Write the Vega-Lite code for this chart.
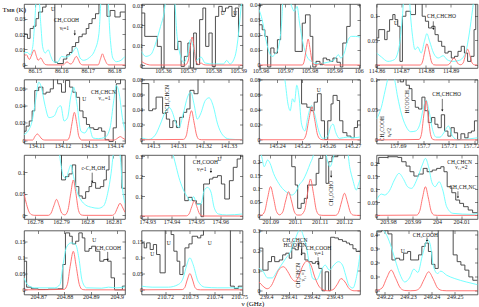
{
"$schema":"https://vega.github.io/schema/vega-lite/v6.json",
"padding":{"left":1,"top":1,"right":0,"bottom":0},
"columns":4,
"spacing":{"row":11.5,"column":16.5},
"bounds":"flush",
"config":{"view":{"stroke":"#333","strokeWidth":0.8},"axis":{"grid":false,"domain":false,"labelFont":"Liberation Serif","labelFontSize":6,"labelColor":"#222","tickColor":"#333","tickSize":-3,"tickWidth":0.6,"labelPadding":2,"labelFlush":false,"labelOverlap":false,"labelBound":false,"format":"~g"}},
"concat":[
{"width":101,"height":64,
"data":{"values":[
{"s":"o","x":86.146,"y":0.02},{"s":"o","x":86.1473,"y":0.0172},{"s":"o","x":86.1483,"y":0.0236},{"s":"o","x":86.1495,"y":0.0251},{"s":"o","x":86.1505,"y":0.03},{"s":"o","x":86.1515,"y":0.0343},{"s":"o","x":86.153,"y":0.0375},{"s":"o","x":86.1543,"y":0.05},{"s":"o","x":86.1576,"y":0.0017},{"s":"o","x":86.1586,"y":0.0009},{"s":"o","x":86.1608,"y":0.0038},{"s":"o","x":86.1621,"y":0.0066},{"s":"o","x":86.1631,"y":0.0081},{"s":"o","x":86.1641,"y":0.0119},{"s":"o","x":86.1654,"y":0.0145},{"s":"o","x":86.1666,"y":0.0183},{"s":"o","x":86.1679,"y":0.02},{"s":"o","x":86.1694,"y":0.0236},{"s":"o","x":86.1704,"y":0.0268},{"s":"o","x":86.1716,"y":0.03},{"s":"o","x":86.1729,"y":0.0332},{"s":"o","x":86.1742,"y":0.05},{"s":"o","x":86.1772,"y":0.0315},{"s":"o","x":86.1784,"y":0.0353},{"s":"o","x":86.1802,"y":0.0311},{"s":"o","x":86.1822,"y":0.0343},{"s":"o","x":86.184,"y":0.0343},
{"s":"c","x":86.146,"y":0.0077},{"s":"c","x":86.1473,"y":0.0081},{"s":"c","x":86.1483,"y":0.0066},{"s":"c","x":86.1493,"y":0.0119},{"s":"c","x":86.15,"y":0.0268},{"s":"c","x":86.1508,"y":0.045},{"s":"c","x":86.1515,"y":0.045},{"s":"c","x":86.1523,"y":0.0268},{"s":"c","x":86.153,"y":0.0119},{"s":"c","x":86.154,"y":0.0077},{"s":"c","x":86.1551,"y":0.0098},{"s":"c","x":86.1561,"y":0.0055},{"s":"c","x":86.1571,"y":0.0021},{"s":"c","x":86.1586,"y":0.0017},{"s":"c","x":86.1601,"y":0.0055},{"s":"c","x":86.1613,"y":0.0051},{"s":"c","x":86.1626,"y":0.0055},{"s":"c","x":86.1641,"y":0.0077},{"s":"c","x":86.1657,"y":0.0113},{"s":"c","x":86.1671,"y":0.0045},{"s":"c","x":86.1684,"y":0.003},{"s":"c","x":86.1704,"y":0.0045},{"s":"c","x":86.1727,"y":0.0098},{"s":"c","x":86.1742,"y":0.0204},{"s":"c","x":86.1752,"y":0.045},{"s":"c","x":86.1774,"y":0.045},{"s":"c","x":86.1784,"y":0.0183},{"s":"c","x":86.1794,"y":0.0045},{"s":"c","x":86.1808,"y":0.0021},{"s":"c","x":86.1825,"y":0.003},{"s":"c","x":86.184,"y":0.0055},
{"s":"r","x":86.146,"y":0.0055},{"s":"r","x":86.1469,"y":0.0066},{"s":"r","x":86.148,"y":0.0035},{"s":"r","x":86.1489,"y":0.0065},{"s":"r","x":86.1498,"y":0.0098},{"s":"r","x":86.1507,"y":0.0055},{"s":"r","x":86.1513,"y":0.003},{"s":"r","x":86.1523,"y":0.0045},{"s":"r","x":86.1532,"y":0.002},{"s":"r","x":86.154,"y":0.0003},{"s":"r","x":86.1551,"y":0},{"s":"r","x":86.1607,"y":0},{"s":"r","x":86.1616,"y":0.0012},{"s":"r","x":86.1622,"y":0.0021},{"s":"r","x":86.1628,"y":0.0012},{"s":"r","x":86.1636,"y":0.0006},{"s":"r","x":86.1644,"y":0.0018},{"s":"r","x":86.165,"y":0.004},{"s":"r","x":86.1657,"y":0.0055},{"s":"r","x":86.1665,"y":0.0033},{"s":"r","x":86.1672,"y":0.0008},{"s":"r","x":86.1681,"y":0},{"s":"r","x":86.1739,"y":0},{"s":"r","x":86.1748,"y":0.004},{"s":"r","x":86.1755,"y":0.0072},{"s":"r","x":86.1763,"y":0.004},{"s":"r","x":86.1772,"y":0.0008},{"s":"r","x":86.1779,"y":0},{"s":"r","x":86.184,"y":0},
{"s":"t","x":86.1569,"y":0.0363,"t":"U"},{"s":"t","x":86.162,"y":0.0293,"t":"CH₃COOH"},{"s":"t","x":86.1612,"y":0.0242,"t":"νₜ=1"},{"s":"a","x":86.1651,"y":0.0226,"y2":0.0197}
]},
"encoding":{"x":{"field":"x","type":"quantitative","scale":{"domain":[86.146,86.184],"nice":false,"zero":false},"axis":{"values":[86.15,86.16,86.17,86.18],"title":null}},
"y":{"field":"y","type":"quantitative","scale":{"domain":[-0.002,0.0395],"nice":false,"zero":false},"axis":{"values":[0,0.01,0.02,0.03],"title":"Tᴍʙ (K)","titleAngle":0,"titleX":-22,"titleY":1,"titleAlign":"left","titleBaseline":"top","titleFont":"Liberation Serif","titleFontSize":7,"titleFontWeight":"normal"}}},
"resolve":{"axis":{"x":"independent","y":"independent"}},
"layer":[{"layer":[
{"transform":[{"filter":"datum.s=='o'"}],"mark":{"type":"line","interpolate":"step-after","clip":true,"color":"#3c3c3c","strokeWidth":0.9}},
{"transform":[{"filter":"datum.s=='c'"}],"mark":{"type":"line","interpolate":"monotone","clip":true,"color":"#66ffff","strokeWidth":0.9}},
{"transform":[{"filter":"datum.s=='r'"}],"mark":{"type":"line","interpolate":"monotone","clip":true,"color":"#ff6464","strokeWidth":0.9}},
{"transform":[{"filter":"datum.s=='t'"}],"mark":{"type":"text","fontSize":5.5,"font":"Liberation Serif","color":"#111"},"encoding":{"text":{"field":"t"}}},
{"transform":[{"filter":"datum.s=='a'"}],"mark":{"type":"rule","color":"#111","strokeWidth":0.6},"encoding":{"y2":{"field":"y2"}}},
{"transform":[{"filter":"datum.s=='a'"}],"mark":{"type":"point","shape":"triangle-down","filled":true,"size":5,"color":"#111","opacity":1},"encoding":{"y":{"field":"y2","type":"quantitative"}}}
]},
{"transform":[{"filter":"datum.s=='r'"}],"mark":{"type":"point","opacity":0},"encoding":{"x":{"field":"x","type":"quantitative","axis":{"orient":"top","labels":false,"values":[86.15,86.16,86.17,86.18],"title":null}},"y":{"field":"y","type":"quantitative","axis":{"orient":"right","labels":false,"values":[0,0.01,0.02,0.03],"title":null}}}}
]},
{"width":101,"height":64,
"data":{"values":[
{"s":"o","x":105.3514,"y":0.026},{"s":"o","x":105.3527,"y":0.0143},{"s":"o","x":105.3577,"y":0.0093},{"s":"o","x":105.3593,"y":-0.0015},{"s":"o","x":105.3604,"y":0.04},{"s":"o","x":105.3646,"y":0.0077},{"s":"o","x":105.3659,"y":0.0118},{"s":"o","x":105.3672,"y":-0.0007},{"s":"o","x":105.3685,"y":0.0043},{"s":"o","x":105.3699,"y":0.011},{"s":"o","x":105.3709,"y":-0.0015},{"s":"o","x":105.3722,"y":0.016},{"s":"o","x":105.3733,"y":0.0002},{"s":"o","x":105.3746,"y":0.0227},{"s":"o","x":105.3759,"y":0.0285},{"s":"o","x":105.377,"y":0.0093},{"s":"o","x":105.3783,"y":0.016},{"s":"o","x":105.3796,"y":-0.0007},{"s":"o","x":105.3809,"y":0.0243},{"s":"o","x":105.3822,"y":0.0293},{"s":"o","x":105.3836,"y":0.0268},{"s":"o","x":105.3849,"y":0.0285},{"s":"o","x":105.3862,"y":0.0293},{"s":"o","x":105.3875,"y":0.0243},{"s":"o","x":105.3888,"y":0.0285},{"s":"o","x":105.3901,"y":0.0143},{"s":"o","x":105.3917,"y":0.0143},
{"s":"c","x":105.3514,"y":0.0068},{"s":"c","x":105.3531,"y":0.0043},{"s":"c","x":105.3551,"y":0.0052},{"s":"c","x":105.3571,"y":0.011},{"s":"c","x":105.359,"y":0.0193},{"s":"c","x":105.3604,"y":0.026},{"s":"c","x":105.3614,"y":0.035},{"s":"c","x":105.3643,"y":0.035},{"s":"c","x":105.3656,"y":0.0143},{"s":"c","x":105.367,"y":0.0043},{"s":"c","x":105.3683,"y":0.0013},{"s":"c","x":105.3699,"y":0.006},{"s":"c","x":105.3709,"y":0.0127},{"s":"c","x":105.372,"y":0.0093},{"s":"c","x":105.3733,"y":0.0023},{"s":"c","x":105.3751,"y":0.004},{"s":"c","x":105.3768,"y":0.001},{"s":"c","x":105.3801,"y":0.0005},{"s":"c","x":105.3841,"y":0.0005},{"s":"c","x":105.3854,"y":0.0023},{"s":"c","x":105.3867,"y":0.0005},{"s":"c","x":105.3887,"y":0.0043},{"s":"c","x":105.39,"y":0.0143},{"s":"c","x":105.3909,"y":0.026},{"s":"c","x":105.3917,"y":0.035},
{"s":"r","x":105.3514,"y":0.0018},{"s":"r","x":105.3527,"y":0.0008},{"s":"r","x":105.354,"y":0.0002},{"s":"r","x":105.3551,"y":0},{"s":"r","x":105.3689,"y":0},{"s":"r","x":105.37,"y":0.002},{"s":"r","x":105.3708,"y":0.0085},{"s":"r","x":105.3716,"y":0.014},{"s":"r","x":105.3724,"y":0.0085},{"s":"r","x":105.3731,"y":0.002},{"s":"r","x":105.3742,"y":0.0003},{"s":"r","x":105.3751,"y":0.001},{"s":"r","x":105.3762,"y":0.0002},{"s":"r","x":105.3775,"y":0},{"s":"r","x":105.3917,"y":0},
{"s":"t","x":105.3838,"y":0.026,"t":"U"},{"s":"t","x":105.3888,"y":0.026,"t":"U"}
]},
"encoding":{"x":{"field":"x","type":"quantitative","scale":{"domain":[105.3514,105.3917],"nice":false,"zero":false},"axis":{"values":[105.36,105.37,105.38,105.39],"title":null}},
"y":{"field":"y","type":"quantitative","scale":{"domain":[-0.0015,0.0305],"nice":false,"zero":false},"axis":{"values":[0,0.01,0.02,0.03],"title":null}}},
"resolve":{"axis":{"x":"independent","y":"independent"}},
"layer":[{"layer":[
{"transform":[{"filter":"datum.s=='o'"}],"mark":{"type":"line","interpolate":"step-after","clip":true,"color":"#3c3c3c","strokeWidth":0.9}},
{"transform":[{"filter":"datum.s=='c'"}],"mark":{"type":"line","interpolate":"monotone","clip":true,"color":"#66ffff","strokeWidth":0.9}},
{"transform":[{"filter":"datum.s=='r'"}],"mark":{"type":"line","interpolate":"monotone","clip":true,"color":"#ff6464","strokeWidth":0.9}},
{"transform":[{"filter":"datum.s=='t'"}],"mark":{"type":"text","fontSize":5.5,"font":"Liberation Serif","color":"#111"},"encoding":{"text":{"field":"t"}}}
]},
{"transform":[{"filter":"datum.s=='r'"}],"mark":{"type":"point","opacity":0},"encoding":{"x":{"field":"x","type":"quantitative","axis":{"orient":"top","labels":false,"values":[105.36,105.37,105.38,105.39],"title":null}},"y":{"field":"y","type":"quantitative","axis":{"orient":"right","labels":false,"values":[0,0.01,0.02,0.03],"title":null}}}}
]},
{"width":101,"height":64,
"data":{"values":[
{"s":"o","x":105.9594,"y":0.0267},{"s":"o","x":105.9607,"y":0.0234},{"s":"o","x":105.9618,"y":0.019},{"s":"o","x":105.9629,"y":-0.0013},{"s":"o","x":105.9642,"y":0.0113},{"s":"o","x":105.9655,"y":0.0079},{"s":"o","x":105.9669,"y":0.0168},{"s":"o","x":105.9682,"y":0.05},{"s":"o","x":105.9741,"y":0.009},{"s":"o","x":105.977,"y":0.0278},{"s":"o","x":105.9783,"y":0.0333},{"s":"o","x":105.9802,"y":0.019},{"s":"o","x":105.9813,"y":-0.0013},{"s":"o","x":105.9826,"y":0.0024},{"s":"o","x":105.9842,"y":0.0002},{"s":"o","x":105.9855,"y":0.0046},{"s":"o","x":105.9869,"y":0.0035},{"s":"o","x":105.9882,"y":0.0024},{"s":"o","x":105.9895,"y":0.0046},{"s":"o","x":105.9911,"y":0.0018},{"s":"o","x":105.9925,"y":-0.0013},{"s":"o","x":105.9935,"y":0.0146},{"s":"o","x":105.9951,"y":0.0256},{"s":"o","x":105.9965,"y":0.05},{"s":"o","x":106.0005,"y":0.05},
{"s":"c","x":105.9594,"y":0.0367},{"s":"c","x":105.9607,"y":0.03},{"s":"c","x":105.9621,"y":0.0179},{"s":"c","x":105.9634,"y":0.0091},{"s":"c","x":105.9647,"y":0.0057},{"s":"c","x":105.9661,"y":0.0075},{"s":"c","x":105.9674,"y":0.0124},{"s":"c","x":105.9685,"y":0.0256},{"s":"c","x":105.9693,"y":0.045},{"s":"c","x":105.9714,"y":0.045},{"s":"c","x":105.9727,"y":0.0389},{"s":"c","x":105.9738,"y":0.0355},{"s":"c","x":105.9749,"y":0.0389},{"s":"c","x":105.9759,"y":0.0278},{"s":"c","x":105.9773,"y":0.0146},{"s":"c","x":105.9789,"y":0.0057},{"s":"c","x":105.9807,"y":0.0024},{"s":"c","x":105.9834,"y":0.0009},{"s":"c","x":105.9874,"y":0.0018},{"s":"c","x":105.9901,"y":0.0035},{"s":"c","x":105.9917,"y":0.0068},{"s":"c","x":105.9927,"y":0.0046},{"s":"c","x":105.9941,"y":0.0079},{"s":"c","x":105.9954,"y":0.0157},{"s":"c","x":105.997,"y":0.019},{"s":"c","x":105.9987,"y":0.019},{"s":"c","x":106.0005,"y":0.0185},
{"s":"r","x":105.9594,"y":0},{"s":"r","x":105.977,"y":0},{"s":"r","x":105.9778,"y":0.0025},{"s":"r","x":105.9786,"y":0.0105},{"s":"r","x":105.9794,"y":0.0172},{"s":"r","x":105.9802,"y":0.0105},{"s":"r","x":105.981,"y":0.0025},{"s":"r","x":105.9818,"y":0.0003},{"s":"r","x":105.9829,"y":0},{"s":"r","x":105.9837,"y":0.0006},{"s":"r","x":105.9845,"y":0.0012},{"s":"r","x":105.9853,"y":0.0006},{"s":"r","x":105.9863,"y":0},{"s":"r","x":106.0005,"y":0}
]},
"encoding":{"x":{"field":"x","type":"quantitative","scale":{"domain":[105.9594,106.0005],"nice":false,"zero":false},"axis":{"values":[105.96,105.97,105.98,105.99,106],"title":null}},
"y":{"field":"y","type":"quantitative","scale":{"domain":[-0.002,0.0405],"nice":false,"zero":false},"axis":{"values":[0,0.01,0.02,0.03,0.04],"title":null}}},
"resolve":{"axis":{"x":"independent","y":"independent"}},
"layer":[{"layer":[
{"transform":[{"filter":"datum.s=='o'"}],"mark":{"type":"line","interpolate":"step-after","clip":true,"color":"#3c3c3c","strokeWidth":0.9}},
{"transform":[{"filter":"datum.s=='c'"}],"mark":{"type":"line","interpolate":"monotone","clip":true,"color":"#66ffff","strokeWidth":0.9}},
{"transform":[{"filter":"datum.s=='r'"}],"mark":{"type":"line","interpolate":"monotone","clip":true,"color":"#ff6464","strokeWidth":0.9}}
]},
{"transform":[{"filter":"datum.s=='r'"}],"mark":{"type":"point","opacity":0},"encoding":{"x":{"field":"x","type":"quantitative","axis":{"orient":"top","labels":false,"values":[105.96,105.97,105.98,105.99,106],"title":null}},"y":{"field":"y","type":"quantitative","axis":{"orient":"right","labels":false,"values":[0,0.01,0.02,0.03,0.04],"title":null}}}}
]},
{"width":101,"height":64,
"data":{"values":[
{"s":"o","x":114.86,"y":0.0548},{"s":"o","x":114.8609,"y":0.0717},{"s":"o","x":114.8633,"y":0.0514},{"s":"o","x":114.8643,"y":0.0683},{"s":"o","x":114.8653,"y":0.0919},{"s":"o","x":114.8666,"y":0.1021},{"s":"o","x":114.8675,"y":0.0919},{"s":"o","x":114.8686,"y":0.0784},{"s":"o","x":114.8695,"y":0.0074},{"s":"o","x":114.8705,"y":0.0987},{"s":"o","x":114.8719,"y":0.1088},{"s":"o","x":114.8738,"y":0.1021},{"s":"o","x":114.8758,"y":0.14},{"s":"o","x":114.8785,"y":0.0987},{"s":"o","x":114.8798,"y":0.0886},{"s":"o","x":114.8811,"y":0.075},{"s":"o","x":114.8824,"y":0.0784},{"s":"o","x":114.8837,"y":0.0615},{"s":"o","x":114.885,"y":0.048},{"s":"o","x":114.8864,"y":0.0379},{"s":"o","x":114.8877,"y":0.0243},{"s":"o","x":114.889,"y":0.0277},{"s":"o","x":114.8903,"y":0.0142},{"s":"o","x":114.8916,"y":0.0176},{"s":"o","x":114.893,"y":0.0277},{"s":"o","x":114.8943,"y":0.0379},{"s":"o","x":114.8956,"y":0.0243},{"s":"o","x":114.8969,"y":0.0074},{"s":"o","x":114.8982,"y":0.0176},{"s":"o","x":114.8995,"y":0.0717},{"s":"o","x":114.9002,"y":0.14},{"s":"o","x":114.9009,"y":0.14},
{"s":"c","x":114.86,"y":0.0243},{"s":"c","x":114.862,"y":0.0162},{"s":"c","x":114.8646,"y":0.0074},{"s":"c","x":114.8672,"y":0.0108},{"s":"c","x":114.8692,"y":0.0379},{"s":"c","x":114.8705,"y":0.0987},{"s":"c","x":114.8712,"y":0.14},{"s":"c","x":114.8732,"y":0.14},{"s":"c","x":114.8738,"y":0.0987},{"s":"c","x":114.8746,"y":0.0581},{"s":"c","x":114.8756,"y":0.0311},{"s":"c","x":114.8767,"y":0.0365},{"s":"c","x":114.8781,"y":0.0243},{"s":"c","x":114.8794,"y":0.048},{"s":"c","x":114.8804,"y":0.0635},{"s":"c","x":114.8815,"y":0.048},{"s":"c","x":114.8831,"y":0.0243},{"s":"c","x":114.885,"y":0.0142},{"s":"c","x":114.887,"y":0.0189},{"s":"c","x":114.8886,"y":0.0108},{"s":"c","x":114.891,"y":0.0074},{"s":"c","x":114.8936,"y":0.0095},{"s":"c","x":114.896,"y":0.0243},{"s":"c","x":114.8976,"y":0.0649},{"s":"c","x":114.8989,"y":0.1122},{"s":"c","x":114.8997,"y":0.14},{"s":"c","x":114.9009,"y":0.14},
{"s":"r","x":114.86,"y":0},{"s":"r","x":114.8777,"y":0},{"s":"r","x":114.8786,"y":0.006},{"s":"r","x":114.8795,"y":0.026},{"s":"r","x":114.8804,"y":0.043},{"s":"r","x":114.8814,"y":0.026},{"s":"r","x":114.8823,"y":0.006},{"s":"r","x":114.8832,"y":0.0005},{"s":"r","x":114.8841,"y":0},{"s":"r","x":114.8886,"y":0},{"s":"r","x":114.8895,"y":0.002},{"s":"r","x":114.8904,"y":0.0085},{"s":"r","x":114.8914,"y":0.014},{"s":"r","x":114.8923,"y":0.0085},{"s":"r","x":114.8932,"y":0.0019},{"s":"r","x":114.8941,"y":0.0006},{"s":"r","x":114.8951,"y":0.0043},{"s":"r","x":114.896,"y":0.0195},{"s":"r","x":114.8969,"y":0.032},{"s":"r","x":114.8978,"y":0.0195},{"s":"r","x":114.8987,"y":0.0043},{"s":"r","x":114.8997,"y":0.0004},{"s":"r","x":114.9009,"y":0},
{"s":"t","x":114.8679,"y":0.085,"t":"U"},{"s":"t","x":114.8863,"y":0.0986,"t":"CH₃CHCHO"},{"s":"a","x":114.883,"y":0.0885,"y2":0.0729}
]},
"encoding":{"x":{"field":"x","type":"quantitative","scale":{"domain":[114.86,114.9009],"nice":false,"zero":false},"axis":{"values":[114.86,114.87,114.88,114.89],"title":null}},
"y":{"field":"y","type":"quantitative","scale":{"domain":[-0.006,0.1235],"nice":false,"zero":false},"axis":{"values":[0,0.05,0.1],"title":null}}},
"resolve":{"axis":{"x":"independent","y":"independent"}},
"layer":[{"layer":[
{"transform":[{"filter":"datum.s=='o'"}],"mark":{"type":"line","interpolate":"step-after","clip":true,"color":"#3c3c3c","strokeWidth":0.9}},
{"transform":[{"filter":"datum.s=='c'"}],"mark":{"type":"line","interpolate":"monotone","clip":true,"color":"#66ffff","strokeWidth":0.9}},
{"transform":[{"filter":"datum.s=='r'"}],"mark":{"type":"line","interpolate":"monotone","clip":true,"color":"#ff6464","strokeWidth":0.9}},
{"transform":[{"filter":"datum.s=='t'"}],"mark":{"type":"text","fontSize":5.5,"font":"Liberation Serif","color":"#111"},"encoding":{"text":{"field":"t"}}},
{"transform":[{"filter":"datum.s=='a'"}],"mark":{"type":"rule","color":"#111","strokeWidth":0.6},"encoding":{"y2":{"field":"y2"}}},
{"transform":[{"filter":"datum.s=='a'"}],"mark":{"type":"point","shape":"triangle-down","filled":true,"size":5,"color":"#111","opacity":1},"encoding":{"y":{"field":"y2","type":"quantitative"}}}
]},
{"transform":[{"filter":"datum.s=='r'"}],"mark":{"type":"point","opacity":0},"encoding":{"x":{"field":"x","type":"quantitative","axis":{"orient":"top","labels":false,"values":[114.86,114.87,114.88,114.89],"title":null}},"y":{"field":"y","type":"quantitative","axis":{"orient":"right","labels":false,"values":[0,0.05,0.1],"title":null}}}}
]},
{"width":101,"height":64,
"data":{"values":[
{"s":"o","x":134.1053,"y":0.0102},{"s":"o","x":134.1061,"y":0.0161},{"s":"o","x":134.1073,"y":0.022},{"s":"o","x":134.1084,"y":0.0337},{"s":"o","x":134.1094,"y":0.0572},{"s":"o","x":134.1109,"y":0.0612},{"s":"o","x":134.1125,"y":0.0533},{"s":"o","x":134.1137,"y":0.0553},{"s":"o","x":134.1153,"y":0.0592},{"s":"o","x":134.1165,"y":0.075},{"s":"o","x":134.1181,"y":0.0651},{"s":"o","x":134.1196,"y":0.0553},{"s":"o","x":134.1211,"y":0.069},{"s":"o","x":134.1227,"y":0.0612},{"s":"o","x":134.1239,"y":0.0553},{"s":"o","x":134.1252,"y":0.0494},{"s":"o","x":134.1265,"y":0.0337},{"s":"o","x":134.1278,"y":0.0259},{"s":"o","x":134.1291,"y":0.018},{"s":"o","x":134.1303,"y":0.0141},{"s":"o","x":134.1319,"y":0.0122},{"s":"o","x":134.1336,"y":0.0141},{"s":"o","x":134.1349,"y":0.0102},{"s":"o","x":134.1362,"y":0.0004},{"s":"o","x":134.1377,"y":-0.0016},{"s":"o","x":134.1393,"y":0.0141},{"s":"o","x":134.1405,"y":0.0651},{"s":"o","x":134.1421,"y":0.08},{"s":"o","x":134.1439,"y":0.08},
{"s":"c","x":134.1053,"y":0.0063},{"s":"c","x":134.1068,"y":0.0102},{"s":"c","x":134.1084,"y":0.022},{"s":"c","x":134.1099,"y":0.0494},{"s":"c","x":134.1109,"y":0.067},{"s":"c","x":134.1119,"y":0.0612},{"s":"c","x":134.1132,"y":0.0416},{"s":"c","x":134.1148,"y":0.0259},{"s":"c","x":134.1168,"y":0.0278},{"s":"c","x":134.1183,"y":0.0376},{"s":"c","x":134.1193,"y":0.0396},{"s":"c","x":134.1206,"y":0.022},{"s":"c","x":134.1219,"y":0.0259},{"s":"c","x":134.1232,"y":0.0514},{"s":"c","x":134.1242,"y":0.0612},{"s":"c","x":134.1255,"y":0.0416},{"s":"c","x":134.127,"y":0.0102},{"s":"c","x":134.1285,"y":0.0082},{"s":"c","x":134.1301,"y":0.0149},{"s":"c","x":134.1316,"y":0.0024},{"s":"c","x":134.1336,"y":0.0016},{"s":"c","x":134.1362,"y":0.0031},{"s":"c","x":134.1381,"y":0.0141},{"s":"c","x":134.1395,"y":0.0455},{"s":"c","x":134.1405,"y":0.0631},{"s":"c","x":134.1416,"y":0.0533},{"s":"c","x":134.1428,"y":0.0259},{"s":"c","x":134.1439,"y":0.0102},
{"s":"r","x":134.1053,"y":0},{"s":"r","x":134.1086,"y":0},{"s":"r","x":134.1095,"y":0.0043},{"s":"r","x":134.1104,"y":0.007},{"s":"r","x":134.1113,"y":0.0043},{"s":"r","x":134.1122,"y":0.001},{"s":"r","x":134.1132,"y":0},{"s":"r","x":134.1218,"y":0},{"s":"r","x":134.1227,"y":0.0043},{"s":"r","x":134.1236,"y":0.0195},{"s":"r","x":134.1245,"y":0.032},{"s":"r","x":134.1254,"y":0.0195},{"s":"r","x":134.1262,"y":0.0043},{"s":"r","x":134.1273,"y":0},{"s":"r","x":134.1393,"y":0},{"s":"r","x":134.1402,"y":0.0005},{"s":"r","x":134.1411,"y":0.0025},{"s":"r","x":134.142,"y":0.004},{"s":"r","x":134.1428,"y":0.0025},{"s":"r","x":134.1439,"y":0.0005},
{"s":"t","x":134.1356,"y":0.0553,"t":"CH₃CHCN"},{"s":"t","x":134.136,"y":0.0488,"t":"ν₁₁=1"},{"s":"t","x":134.1283,"y":0.0474,"t":"U"}
]},
"encoding":{"x":{"field":"x","type":"quantitative","scale":{"domain":[134.1053,134.1438],"nice":false,"zero":false},"axis":{"values":[134.11,134.12,134.13,134.14],"title":null}},
"y":{"field":"y","type":"quantitative","scale":{"domain":[-0.004,0.07],"nice":false,"zero":false},"axis":{"values":[0,0.02,0.04,0.06],"title":null}}},
"resolve":{"axis":{"x":"independent","y":"independent"}},
"layer":[{"layer":[
{"transform":[{"filter":"datum.s=='o'"}],"mark":{"type":"line","interpolate":"step-after","clip":true,"color":"#3c3c3c","strokeWidth":0.9}},
{"transform":[{"filter":"datum.s=='c'"}],"mark":{"type":"line","interpolate":"monotone","clip":true,"color":"#66ffff","strokeWidth":0.9}},
{"transform":[{"filter":"datum.s=='r'"}],"mark":{"type":"line","interpolate":"monotone","clip":true,"color":"#ff6464","strokeWidth":0.9}},
{"transform":[{"filter":"datum.s=='t'"}],"mark":{"type":"text","fontSize":5.5,"font":"Liberation Serif","color":"#111"},"encoding":{"text":{"field":"t"}}}
]},
{"transform":[{"filter":"datum.s=='r'"}],"mark":{"type":"point","opacity":0},"encoding":{"x":{"field":"x","type":"quantitative","axis":{"orient":"top","labels":false,"values":[134.11,134.12,134.13,134.14],"title":null}},"y":{"field":"y","type":"quantitative","axis":{"orient":"right","labels":false,"values":[0,0.02,0.04,0.06],"title":null}}}}
]},
{"width":101,"height":64,
"data":{"values":[
{"s":"o","x":141.2954,"y":0.0746},{"s":"o","x":141.2983,"y":0.0386},{"s":"o","x":141.2998,"y":0.0409},{"s":"o","x":141.3012,"y":0.0566},{"s":"o","x":141.3038,"y":0.0351},{"s":"o","x":141.3053,"y":0.0274},{"s":"o","x":141.3066,"y":0.0162},{"s":"o","x":141.3079,"y":0.0252},{"s":"o","x":141.3093,"y":0.0162},{"s":"o","x":141.3106,"y":0.0297},{"s":"o","x":141.3121,"y":0.0364},{"s":"o","x":141.3134,"y":0.0409},{"s":"o","x":141.3147,"y":0.0656},{"s":"o","x":141.3163,"y":0.0611},{"s":"o","x":141.3179,"y":0.09},{"s":"o","x":141.3356,"y":0.09},
{"s":"c","x":141.2954,"y":0.0027},{"s":"c","x":141.2983,"y":0.0004},{"s":"c","x":141.3009,"y":0.0063},{"s":"c","x":141.3029,"y":0.0207},{"s":"c","x":141.3048,"y":0.0364},{"s":"c","x":141.3064,"y":0.0431},{"s":"c","x":141.3077,"y":0.0364},{"s":"c","x":141.309,"y":0.0229},{"s":"c","x":141.3103,"y":0.0162},{"s":"c","x":141.312,"y":0.0342},{"s":"c","x":141.3137,"y":0.0566},{"s":"c","x":141.315,"y":0.0634},{"s":"c","x":141.3163,"y":0.0476},{"s":"c","x":141.3176,"y":0.0274},{"s":"c","x":141.3189,"y":0.0342},{"s":"c","x":141.3208,"y":0.0521},{"s":"c","x":141.3223,"y":0.0557},{"s":"c","x":141.3239,"y":0.0454},{"s":"c","x":141.3257,"y":0.0207},{"s":"c","x":141.3277,"y":0.0063},{"s":"c","x":141.3303,"y":0.0009},{"s":"c","x":141.3356,"y":0},
{"s":"r","x":141.2954,"y":0},{"s":"r","x":141.3121,"y":0.0004},{"s":"r","x":141.3132,"y":0.0052},{"s":"r","x":141.3142,"y":0.0235},{"s":"r","x":141.3153,"y":0.0386},{"s":"r","x":141.3163,"y":0.0235},{"s":"r","x":141.3174,"y":0.0052},{"s":"r","x":141.3184,"y":0.0004},{"s":"r","x":141.3194,"y":0},{"s":"r","x":141.3356,"y":0},
{"s":"v","x":141.3055,"y":0.054,"t":"¹³CH₂CHCN"}
]},
"encoding":{"x":{"field":"x","type":"quantitative","scale":{"domain":[141.2954,141.3356],"nice":false,"zero":false},"axis":{"values":[141.3,141.31,141.32,141.33],"title":null}},
"y":{"field":"y","type":"quantitative","scale":{"domain":[-0.005,0.08],"nice":false,"zero":false},"axis":{"values":[0,0.02,0.04,0.06,0.08],"title":null}}},
"resolve":{"axis":{"x":"independent","y":"independent"}},
"layer":[{"layer":[
{"transform":[{"filter":"datum.s=='o'"}],"mark":{"type":"line","interpolate":"step-after","clip":true,"color":"#3c3c3c","strokeWidth":0.9}},
{"transform":[{"filter":"datum.s=='c'"}],"mark":{"type":"line","interpolate":"monotone","clip":true,"color":"#66ffff","strokeWidth":0.9}},
{"transform":[{"filter":"datum.s=='r'"}],"mark":{"type":"line","interpolate":"monotone","clip":true,"color":"#ff6464","strokeWidth":0.9}},
{"transform":[{"filter":"datum.s=='v'"}],"mark":{"type":"text","angle":270,"fontSize":5.5,"font":"Liberation Serif","color":"#111"},"encoding":{"text":{"field":"t"}}}
]},
{"transform":[{"filter":"datum.s=='r'"}],"mark":{"type":"point","opacity":0},"encoding":{"x":{"field":"x","type":"quantitative","axis":{"orient":"top","labels":false,"values":[141.3,141.31,141.32,141.33],"title":null}},"y":{"field":"y","type":"quantitative","axis":{"orient":"right","labels":false,"values":[0,0.02,0.04,0.06,0.08],"title":null}}}}
]},
{"width":101,"height":64,
"data":{"values":[
{"s":"o","x":145.2329,"y":0.09},{"s":"o","x":145.2498,"y":0.0476},{"s":"o","x":145.2519,"y":0.0431},{"s":"o","x":145.2535,"y":0.0386},{"s":"o","x":145.2548,"y":0.0499},{"s":"o","x":145.2561,"y":0.0611},{"s":"o","x":145.2576,"y":0.0252},{"s":"o","x":145.2589,"y":0.0004},{"s":"o","x":145.2602,"y":0.0252},{"s":"o","x":145.2615,"y":0.0476},{"s":"o","x":145.2623,"y":0.0589},{"s":"o","x":145.2639,"y":0.0521},{"s":"o","x":145.2649,"y":0.0252},{"s":"o","x":145.2662,"y":0.0094},{"s":"o","x":145.2678,"y":0.0049},{"s":"o","x":145.2694,"y":0.0027},{"s":"o","x":145.2707,"y":0.0162},{"s":"o","x":145.272,"y":0.0252},{"s":"o","x":145.273,"y":0.0252},
{"s":"c","x":145.2329,"y":0.09},{"s":"c","x":145.2427,"y":0.09},{"s":"c","x":145.2433,"y":0.0768},{"s":"c","x":145.2444,"y":0.0476},{"s":"c","x":145.2453,"y":0.0386},{"s":"c","x":145.2462,"y":0.0544},{"s":"c","x":145.247,"y":0.0499},{"s":"c","x":145.2479,"y":0.0724},{"s":"c","x":145.2488,"y":0.0566},{"s":"c","x":145.2498,"y":0.0207},{"s":"c","x":145.2511,"y":0.0117},{"s":"c","x":145.2524,"y":0.0319},{"s":"c","x":145.2537,"y":0.0454},{"s":"c","x":145.255,"y":0.0342},{"s":"c","x":145.2566,"y":0.0117},{"s":"c","x":145.2583,"y":0.0018},{"s":"c","x":145.2602,"y":0.0049},{"s":"c","x":145.2615,"y":0.0184},{"s":"c","x":145.2623,"y":0.0207},{"s":"c","x":145.2634,"y":0.0094},{"s":"c","x":145.2648,"y":0.0018},{"s":"c","x":145.2681,"y":0.0036},{"s":"c","x":145.2707,"y":0.0027},{"s":"c","x":145.273,"y":0.0036},
{"s":"r","x":145.2329,"y":0},{"s":"r","x":145.2503,"y":0},{"s":"r","x":145.2515,"y":0.0059},{"s":"r","x":145.2527,"y":0.0268},{"s":"r","x":145.2539,"y":0.044},{"s":"r","x":145.255,"y":0.0268},{"s":"r","x":145.2562,"y":0.0059},{"s":"r","x":145.2574,"y":0.0005},{"s":"r","x":145.2585,"y":0},{"s":"r","x":145.273,"y":0},
{"s":"t","x":145.2566,"y":0.0657,"t":"U"}
]},
"encoding":{"x":{"field":"x","type":"quantitative","scale":{"domain":[145.2329,145.273],"nice":false,"zero":false},"axis":{"values":[145.24,145.25,145.26,145.27],"title":null}},
"y":{"field":"y","type":"quantitative","scale":{"domain":[-0.005,0.08],"nice":false,"zero":false},"axis":{"values":[0,0.02,0.04,0.06,0.08],"title":null}}},
"resolve":{"axis":{"x":"independent","y":"independent"}},
"layer":[{"layer":[
{"transform":[{"filter":"datum.s=='o'"}],"mark":{"type":"line","interpolate":"step-after","clip":true,"color":"#3c3c3c","strokeWidth":0.9}},
{"transform":[{"filter":"datum.s=='c'"}],"mark":{"type":"line","interpolate":"monotone","clip":true,"color":"#66ffff","strokeWidth":0.9}},
{"transform":[{"filter":"datum.s=='r'"}],"mark":{"type":"line","interpolate":"monotone","clip":true,"color":"#ff6464","strokeWidth":0.9}},
{"transform":[{"filter":"datum.s=='t'"}],"mark":{"type":"text","fontSize":5.5,"font":"Liberation Serif","color":"#111"},"encoding":{"text":{"field":"t"}}}
]},
{"transform":[{"filter":"datum.s=='r'"}],"mark":{"type":"point","opacity":0},"encoding":{"x":{"field":"x","type":"quantitative","axis":{"orient":"top","labels":false,"values":[145.24,145.25,145.26,145.27],"title":null}},"y":{"field":"y","type":"quantitative","axis":{"orient":"right","labels":false,"values":[0,0.02,0.04,0.06,0.08],"title":null}}}}
]},
{"width":101,"height":64,
"data":{"values":[
{"s":"o","x":157.6817,"y":0.11},{"s":"o","x":157.691,"y":0.0961},{"s":"o","x":157.6923,"y":0.11},{"s":"o","x":157.6933,"y":0.0905},{"s":"o","x":157.6946,"y":0.0849},{"s":"o","x":157.6956,"y":0.0652},{"s":"o","x":157.6969,"y":0.054},{"s":"o","x":157.6982,"y":0.0511},{"s":"o","x":157.6995,"y":0.0708},{"s":"o","x":157.7007,"y":0.0483},{"s":"o","x":157.702,"y":0.0287},{"s":"o","x":157.7033,"y":0.0371},{"s":"o","x":157.7046,"y":0.0259},{"s":"o","x":157.7058,"y":0.0202},{"s":"o","x":157.7071,"y":0.0416},{"s":"o","x":157.7084,"y":0.0146},{"s":"o","x":157.7097,"y":0.0062},{"s":"o","x":157.7109,"y":0.0202},{"s":"o","x":157.7122,"y":0.0118},{"s":"o","x":157.7135,"y":0.0006},{"s":"o","x":157.7148,"y":0.0101},{"s":"o","x":157.7163,"y":0.0034},{"s":"o","x":157.7176,"y":0.0118},{"s":"o","x":157.7189,"y":0.0146},{"s":"o","x":157.7201,"y":0.0315},{"s":"o","x":157.7213,"y":0.0315},
{"s":"c","x":157.6817,"y":0.0343},{"s":"c","x":157.6836,"y":0.054},{"s":"c","x":157.6851,"y":0.0821},{"s":"c","x":157.6864,"y":0.1045},{"s":"c","x":157.6874,"y":0.11},{"s":"c","x":157.6885,"y":0.1045},{"s":"c","x":157.69,"y":0.0708},{"s":"c","x":157.6915,"y":0.0427},{"s":"c","x":157.6932,"y":0.023},{"s":"c","x":157.6951,"y":0.0135},{"s":"c","x":157.697,"y":0.0146},{"s":"c","x":157.6987,"y":0.0259},{"s":"c","x":157.7,"y":0.0511},{"s":"c","x":157.7011,"y":0.0663},{"s":"c","x":157.7023,"y":0.0483},{"s":"c","x":157.7035,"y":0.0202},{"s":"c","x":157.7051,"y":0.0045},{"s":"c","x":157.7066,"y":0.0045},{"s":"c","x":157.7081,"y":0.0118},{"s":"c","x":157.7099,"y":0.023},{"s":"c","x":157.7115,"y":0.0062},{"s":"c","x":157.7136,"y":0},{"s":"c","x":157.7181,"y":0.0017},{"s":"c","x":157.7213,"y":0.0034},
{"s":"r","x":157.6817,"y":0},{"s":"r","x":157.6984,"y":0.0007},{"s":"r","x":157.6993,"y":0.0088},{"s":"r","x":157.7002,"y":0.0395},{"s":"r","x":157.7011,"y":0.065},{"s":"r","x":157.702,"y":0.0395},{"s":"r","x":157.7029,"y":0.0088},{"s":"r","x":157.7038,"y":0.0007},{"s":"r","x":157.7048,"y":0},{"s":"r","x":157.7213,"y":0},
{"s":"v","x":157.684,"y":0.0185,"t":"CH₃COOH"},{"s":"v","x":157.6867,"y":0.012,"t":"νₜ=2"},{"s":"v","x":157.6938,"y":0.065,"t":"HCOOCH₃"},
{"s":"t","x":157.7092,"y":0.0763,"t":"CH₃CHCHO"},{"s":"a","x":157.7075,"y":0.0679,"y2":0.0488}
]},
"encoding":{"x":{"field":"x","type":"quantitative","scale":{"domain":[157.6817,157.7213],"nice":false,"zero":false},"axis":{"values":[157.69,157.7,157.71,157.72],"title":null,"labelAlign":{"condition":{"test":"datum.value > 157.715","value":"right"},"value":"center"},"labelOffset":{"condition":{"test":"datum.value > 157.715","value":5},"value":0}}},
"y":{"field":"y","type":"quantitative","scale":{"domain":[-0.006,0.1],"nice":false,"zero":false},"axis":{"values":[0,0.05,0.1],"title":null}}},
"resolve":{"axis":{"x":"independent","y":"independent"}},
"layer":[{"layer":[
{"transform":[{"filter":"datum.s=='o'"}],"mark":{"type":"line","interpolate":"step-after","clip":true,"color":"#3c3c3c","strokeWidth":0.9}},
{"transform":[{"filter":"datum.s=='c'"}],"mark":{"type":"line","interpolate":"monotone","clip":true,"color":"#66ffff","strokeWidth":0.9}},
{"transform":[{"filter":"datum.s=='r'"}],"mark":{"type":"line","interpolate":"monotone","clip":true,"color":"#ff6464","strokeWidth":0.9}},
{"transform":[{"filter":"datum.s=='t'"}],"mark":{"type":"text","fontSize":5.5,"font":"Liberation Serif","color":"#111"},"encoding":{"text":{"field":"t"}}},
{"transform":[{"filter":"datum.s=='v'"}],"mark":{"type":"text","angle":270,"fontSize":5.5,"font":"Liberation Serif","color":"#111"},"encoding":{"text":{"field":"t"}}},
{"transform":[{"filter":"datum.s=='a'"}],"mark":{"type":"rule","color":"#111","strokeWidth":0.6},"encoding":{"y2":{"field":"y2"}}},
{"transform":[{"filter":"datum.s=='a'"}],"mark":{"type":"point","shape":"triangle-down","filled":true,"size":5,"color":"#111","opacity":1},"encoding":{"y":{"field":"y2","type":"quantitative"}}}
]},
{"transform":[{"filter":"datum.s=='r'"}],"mark":{"type":"point","opacity":0},"encoding":{"x":{"field":"x","type":"quantitative","axis":{"orient":"top","labels":false,"values":[157.69,157.7,157.71,157.72],"title":null}},"y":{"field":"y","type":"quantitative","axis":{"orient":"right","labels":false,"values":[0,0.05,0.1],"title":null}}}}
]},
{"width":101,"height":64,
"data":{"values":[
{"s":"o","x":162.7759,"y":0.16},{"s":"o","x":162.7902,"y":0.0822},{"s":"o","x":162.7917,"y":0.0899},{"s":"o","x":162.793,"y":0.0961},{"s":"o","x":162.7943,"y":0.117},{"s":"o","x":162.7956,"y":0.0667},{"s":"o","x":162.7968,"y":0.045},{"s":"o","x":162.7981,"y":0.0395},{"s":"o","x":162.7994,"y":0.055},{"s":"o","x":162.8007,"y":0.0667},{"s":"o","x":162.8017,"y":0.076},{"s":"o","x":162.8032,"y":0.0628},{"s":"o","x":162.805,"y":0.0667},{"s":"o","x":162.8063,"y":0.0822},{"s":"o","x":162.8073,"y":0.1054},{"s":"o","x":162.8083,"y":0.16},{"s":"o","x":162.8132,"y":0.0628},{"s":"o","x":162.8144,"y":0.0628},
{"s":"c","x":162.7759,"y":0.16},{"s":"c","x":162.7889,"y":0.16},{"s":"c","x":162.7899,"y":0.1209},{"s":"c","x":162.791,"y":0.0899},{"s":"c","x":162.792,"y":0.086},{"s":"c","x":162.7928,"y":0.1015},{"s":"c","x":162.7938,"y":0.117},{"s":"c","x":162.7948,"y":0.0899},{"s":"c","x":162.7961,"y":0.055},{"s":"c","x":162.7976,"y":0.0357},{"s":"c","x":162.7994,"y":0.024},{"s":"c","x":162.8017,"y":0.0186},{"s":"c","x":162.8042,"y":0.0163},{"s":"c","x":162.8062,"y":0.0217},{"s":"c","x":162.8078,"y":0.0512},{"s":"c","x":162.8091,"y":0.0977},{"s":"c","x":162.81,"y":0.1442},{"s":"c","x":162.8106,"y":0.16},{"s":"c","x":162.8119,"y":0.16},{"s":"c","x":162.8127,"y":0.1287},{"s":"c","x":162.8134,"y":0.0667},{"s":"c","x":162.8144,"y":0.0279},
{"s":"r","x":162.7759,"y":0.051},{"s":"r","x":162.7769,"y":0.025},{"s":"r","x":162.7779,"y":0.007},{"s":"r","x":162.779,"y":0.001},{"s":"r","x":162.78,"y":0},{"s":"r","x":162.7852,"y":0},{"s":"r","x":162.7862,"y":0.005},{"s":"r","x":162.7873,"y":0.0225},{"s":"r","x":162.7883,"y":0.037},{"s":"r","x":162.7893,"y":0.0225},{"s":"r","x":162.7903,"y":0.005},{"s":"r","x":162.7915,"y":0.001},{"s":"r","x":162.7926,"y":0.011},{"s":"r","x":162.7937,"y":0.05},{"s":"r","x":162.7947,"y":0.082},{"s":"r","x":162.7957,"y":0.05},{"s":"r","x":162.7967,"y":0.011},{"s":"r","x":162.7977,"y":0.001},{"s":"r","x":162.7988,"y":0},{"s":"r","x":162.8095,"y":0},{"s":"r","x":162.8105,"y":0.0038},{"s":"r","x":162.8115,"y":0.017},{"s":"r","x":162.8125,"y":0.028},{"s":"r","x":162.8136,"y":0.017},{"s":"r","x":162.8144,"y":0.007},
{"s":"t","x":162.8023,"y":0.109,"t":"c-C₂H₅OH"},{"s":"a","x":162.8019,"y":0.099,"y2":0.078}
]},
"encoding":{"x":{"field":"x","type":"quantitative","scale":{"domain":[162.7759,162.8144],"nice":false,"zero":false},"axis":{"values":[162.78,162.79,162.8,162.81],"title":null}},
"y":{"field":"y","type":"quantitative","scale":{"domain":[-0.0085,0.14],"nice":false,"zero":false},"axis":{"values":[0,0.05,0.1],"title":null}}},
"resolve":{"axis":{"x":"independent","y":"independent"}},
"layer":[{"layer":[
{"transform":[{"filter":"datum.s=='o'"}],"mark":{"type":"line","interpolate":"step-after","clip":true,"color":"#3c3c3c","strokeWidth":0.9}},
{"transform":[{"filter":"datum.s=='c'"}],"mark":{"type":"line","interpolate":"monotone","clip":true,"color":"#66ffff","strokeWidth":0.9}},
{"transform":[{"filter":"datum.s=='r'"}],"mark":{"type":"line","interpolate":"monotone","clip":true,"color":"#ff6464","strokeWidth":0.9}},
{"transform":[{"filter":"datum.s=='t'"}],"mark":{"type":"text","fontSize":5.5,"font":"Liberation Serif","color":"#111"},"encoding":{"text":{"field":"t"}}},
{"transform":[{"filter":"datum.s=='a'"}],"mark":{"type":"rule","color":"#111","strokeWidth":0.6},"encoding":{"y2":{"field":"y2"}}},
{"transform":[{"filter":"datum.s=='a'"}],"mark":{"type":"point","shape":"triangle-down","filled":true,"size":5,"color":"#111","opacity":1},"encoding":{"y":{"field":"y2","type":"quantitative"}}}
]},
{"transform":[{"filter":"datum.s=='r'"}],"mark":{"type":"point","opacity":0},"encoding":{"x":{"field":"x","type":"quantitative","axis":{"orient":"top","labels":false,"values":[162.78,162.79,162.8,162.81],"title":null}},"y":{"field":"y","type":"quantitative","axis":{"orient":"right","labels":false,"values":[0,0.05,0.1],"title":null}}}}
]},
{"width":101,"height":64,
"data":{"values":[
{"s":"o","x":174.9276,"y":0.33},{"s":"o","x":174.9454,"y":0.0767},{"s":"o","x":174.9469,"y":0.0933},{"s":"o","x":174.9485,"y":0.0767},{"s":"o","x":174.9502,"y":0.06},{"s":"o","x":174.9521,"y":-0.0033},{"s":"o","x":174.9532,"y":0.16},{"s":"o","x":174.9556,"y":0.185},{"s":"o","x":174.957,"y":0.1934},{"s":"o","x":174.9589,"y":0.2017},{"s":"o","x":174.9605,"y":0.16},{"s":"o","x":174.9619,"y":0.085},{"s":"o","x":174.9638,"y":0.1767},{"s":"o","x":174.9654,"y":0.2434},{"s":"o","x":174.967,"y":0.2851},{"s":"o","x":174.9684,"y":0.33},{"s":"o","x":174.9692,"y":0.33},
{"s":"c","x":174.9276,"y":0.33},{"s":"c","x":174.9396,"y":0.318},{"s":"c","x":174.9404,"y":0.31},{"s":"c","x":174.9416,"y":0.26},{"s":"c","x":174.943,"y":0.1934},{"s":"c","x":174.9447,"y":0.135},{"s":"c","x":174.9464,"y":0.0967},{"s":"c","x":174.9477,"y":0.0767},{"s":"c","x":174.9491,"y":0.0967},{"s":"c","x":174.9504,"y":0.0567},{"s":"c","x":174.9521,"y":0.06},{"s":"c","x":174.9534,"y":0.1267},{"s":"c","x":174.9548,"y":0.143},{"s":"c","x":174.9562,"y":0.12},{"s":"c","x":174.9575,"y":0.0433},{"s":"c","x":174.9593,"y":0.01},{"s":"c","x":174.9627,"y":0.005},{"s":"c","x":174.9692,"y":0.01},
{"s":"r","x":174.9276,"y":0},{"s":"r","x":174.9461,"y":0.0008},{"s":"r","x":174.9472,"y":0.0104},{"s":"r","x":174.9483,"y":0.0467},{"s":"r","x":174.9494,"y":0.077},{"s":"r","x":174.9504,"y":0.0467},{"s":"r","x":174.9515,"y":0.0104},{"s":"r","x":174.9526,"y":0.0008},{"s":"r","x":174.9537,"y":0},{"s":"r","x":174.9692,"y":0},
{"s":"t","x":174.9539,"y":0.2685,"t":"CH₃COOH"},{"s":"t","x":174.9597,"y":0.283,"t":"U"},{"s":"t","x":174.9524,"y":0.235,"t":"νₜ=1"},{"s":"a","x":174.9562,"y":0.24,"y2":0.22}
]},
"encoding":{"x":{"field":"x","type":"quantitative","scale":{"domain":[174.9276,174.9692],"nice":false,"zero":false},"axis":{"values":[174.93,174.94,174.95,174.96],"title":null}},
"y":{"field":"y","type":"quantitative","scale":{"domain":[-0.015,0.305],"nice":false,"zero":false},"axis":{"values":[0,0.1,0.2,0.3],"title":null}}},
"resolve":{"axis":{"x":"independent","y":"independent"}},
"layer":[{"layer":[
{"transform":[{"filter":"datum.s=='o'"}],"mark":{"type":"line","interpolate":"step-after","clip":true,"color":"#3c3c3c","strokeWidth":0.9}},
{"transform":[{"filter":"datum.s=='c'"}],"mark":{"type":"line","interpolate":"monotone","clip":true,"color":"#66ffff","strokeWidth":0.9}},
{"transform":[{"filter":"datum.s=='r'"}],"mark":{"type":"line","interpolate":"monotone","clip":true,"color":"#ff6464","strokeWidth":0.9}},
{"transform":[{"filter":"datum.s=='t'"}],"mark":{"type":"text","fontSize":5.5,"font":"Liberation Serif","color":"#111"},"encoding":{"text":{"field":"t"}}},
{"transform":[{"filter":"datum.s=='a'"}],"mark":{"type":"rule","color":"#111","strokeWidth":0.6},"encoding":{"y2":{"field":"y2"}}},
{"transform":[{"filter":"datum.s=='a'"}],"mark":{"type":"point","shape":"triangle-down","filled":true,"size":5,"color":"#111","opacity":1},"encoding":{"y":{"field":"y2","type":"quantitative"}}}
]},
{"transform":[{"filter":"datum.s=='r'"}],"mark":{"type":"point","opacity":0},"encoding":{"x":{"field":"x","type":"quantitative","axis":{"orient":"top","labels":false,"values":[174.93,174.94,174.95,174.96],"title":null}},"y":{"field":"y","type":"quantitative","axis":{"orient":"right","labels":false,"values":[0,0.1,0.2,0.3],"title":null}}}}
]},
{"width":101,"height":64,
"data":{"values":[
{"s":"o","x":201.0854,"y":0.25},{"s":"o","x":201.0987,"y":0.181},{"s":"o","x":201.1001,"y":0.1128},{"s":"o","x":201.1011,"y":0.026},{"s":"o","x":201.1025,"y":0.0446},{"s":"o","x":201.1038,"y":0.0632},{"s":"o","x":201.1051,"y":0.1128},{"s":"o","x":201.1086,"y":0.1562},{"s":"o","x":201.1097,"y":0.212},{"s":"o","x":201.1113,"y":0.25},{"s":"o","x":201.1126,"y":0.119},{"s":"o","x":201.1137,"y":0.1996},{"s":"o","x":201.115,"y":0.2182},{"s":"o","x":201.1174,"y":0.25},{"s":"o","x":201.1264,"y":0.25},
{"s":"c","x":201.0854,"y":0.25},{"s":"c","x":201.0865,"y":0.2182},{"s":"c","x":201.0875,"y":0.181},{"s":"c","x":201.0889,"y":0.2058},{"s":"c","x":201.0899,"y":0.1934},{"s":"c","x":201.0913,"y":0.1562},{"s":"c","x":201.0934,"y":0.119},{"s":"c","x":201.0955,"y":0.0942},{"s":"c","x":201.0974,"y":0.0818},{"s":"c","x":201.0987,"y":0.0756},{"s":"c","x":201.1001,"y":0.0843},{"s":"c","x":201.1017,"y":0.1128},{"s":"c","x":201.1033,"y":0.1314},{"s":"c","x":201.1049,"y":0.1624},{"s":"c","x":201.1062,"y":0.1934},{"s":"c","x":201.1073,"y":0.2182},{"s":"c","x":201.1081,"y":0.25},{"s":"c","x":201.1121,"y":0.25},{"s":"c","x":201.1131,"y":0.2058},{"s":"c","x":201.1142,"y":0.181},{"s":"c","x":201.1155,"y":0.212},{"s":"c","x":201.1166,"y":0.25},{"s":"c","x":201.1211,"y":0.25},{"s":"c","x":201.1222,"y":0.181},{"s":"c","x":201.1235,"y":0.1314},{"s":"c","x":201.1249,"y":0.0942},{"s":"c","x":201.1259,"y":0.119},{"s":"c","x":201.1264,"y":0.1314},
{"s":"r","x":201.0854,"y":0},{"s":"r","x":201.0865,"y":0.0012},{"s":"r","x":201.0877,"y":0.0145},{"s":"r","x":201.0889,"y":0.065},{"s":"r","x":201.0901,"y":0.107},{"s":"r","x":201.0913,"y":0.065},{"s":"r","x":201.0925,"y":0.0146},{"s":"r","x":201.0937,"y":0.002},{"s":"r","x":201.095,"y":0.0119},{"s":"r","x":201.0962,"y":0.0534},{"s":"r","x":201.0974,"y":0.088},{"s":"r","x":201.0986,"y":0.0534},{"s":"r","x":201.0998,"y":0.0119},{"s":"r","x":201.101,"y":0.001},{"s":"r","x":201.1022,"y":0.001},{"s":"r","x":201.1039,"y":0.0183},{"s":"r","x":201.1051,"y":0.082},{"s":"r","x":201.1063,"y":0.135},{"s":"r","x":201.1075,"y":0.082},{"s":"r","x":201.1087,"y":0.0183},{"s":"r","x":201.1099,"y":0.0015},{"s":"r","x":201.1114,"y":0},{"s":"r","x":201.1165,"y":0},{"s":"r","x":201.1177,"y":0.0111},{"s":"r","x":201.1189,"y":0.0498},{"s":"r","x":201.1201,"y":0.082},{"s":"r","x":201.1213,"y":0.0498},{"s":"r","x":201.1225,"y":0.0111},{"s":"r","x":201.1237,"y":0.0009},{"s":"r","x":201.1249,"y":0},{"s":"r","x":201.1264,"y":0},
{"s":"v","x":201.1147,"y":0.082,"t":"CH₃OCHO"},{"s":"a","x":201.1147,"y":0.1667,"y2":0.1436}
]},
"encoding":{"x":{"field":"x","type":"quantitative","scale":{"domain":[201.0854,201.1264],"nice":false,"zero":false},"axis":{"values":[201.09,201.1,201.11,201.12],"title":null}},
"y":{"field":"y","type":"quantitative","scale":{"domain":[-0.0136,0.2245],"nice":false,"zero":false},"axis":{"values":[0,0.05,0.1,0.15,0.2],"title":null}}},
"resolve":{"axis":{"x":"independent","y":"independent"}},
"layer":[{"layer":[
{"transform":[{"filter":"datum.s=='o'"}],"mark":{"type":"line","interpolate":"step-after","clip":true,"color":"#3c3c3c","strokeWidth":0.9}},
{"transform":[{"filter":"datum.s=='c'"}],"mark":{"type":"line","interpolate":"monotone","clip":true,"color":"#66ffff","strokeWidth":0.9}},
{"transform":[{"filter":"datum.s=='r'"}],"mark":{"type":"line","interpolate":"monotone","clip":true,"color":"#ff6464","strokeWidth":0.9}},
{"transform":[{"filter":"datum.s=='v'"}],"mark":{"type":"text","angle":270,"fontSize":5.5,"font":"Liberation Serif","color":"#111"},"encoding":{"text":{"field":"t"}}},
{"transform":[{"filter":"datum.s=='a'"}],"mark":{"type":"rule","color":"#111","strokeWidth":0.6},"encoding":{"y2":{"field":"y2"}}},
{"transform":[{"filter":"datum.s=='a'"}],"mark":{"type":"point","shape":"triangle-down","filled":true,"size":5,"color":"#111","opacity":1},"encoding":{"y":{"field":"y2","type":"quantitative"}}}
]},
{"transform":[{"filter":"datum.s=='r'"}],"mark":{"type":"point","opacity":0},"encoding":{"x":{"field":"x","type":"quantitative","axis":{"orient":"top","labels":false,"values":[201.09,201.1,201.11,201.12],"title":null}},"y":{"field":"y","type":"quantitative","axis":{"orient":"right","labels":false,"values":[0,0.05,0.1,0.15,0.2],"title":null}}}}
]},
{"width":101,"height":64,
"data":{"values":[
{"s":"o","x":203.9753,"y":0.1997},{"s":"o","x":203.9762,"y":0.2227},{"s":"o","x":203.98,"y":0.2253},{"s":"o","x":203.984,"y":0.2227},{"s":"o","x":203.9856,"y":0.2061},{"s":"o","x":203.9874,"y":0.1894},{"s":"o","x":203.989,"y":0.1677},{"s":"o","x":203.9906,"y":0.151},{"s":"o","x":203.9925,"y":0.1587},{"s":"o","x":203.9944,"y":0.1805},{"s":"o","x":203.996,"y":0.1677},{"s":"o","x":203.9981,"y":0.1741},{"s":"o","x":203.9999,"y":0.1805},{"s":"o","x":204.0016,"y":0.1869},{"s":"o","x":204.0029,"y":0.1677},{"s":"o","x":204.0042,"y":0.1101},{"s":"o","x":204.0061,"y":0.087},{"s":"o","x":204.0077,"y":0.0589},{"s":"o","x":204.0093,"y":0.0461},{"s":"o","x":204.0109,"y":0.0333},{"s":"o","x":204.0128,"y":0.0205},{"s":"o","x":204.0146,"y":0.0102},{"s":"o","x":204.0166,"y":0.0102},
{"s":"c","x":203.9753,"y":0.0589},{"s":"c","x":203.9773,"y":0.0819},{"s":"c","x":203.9786,"y":0.0781},{"s":"c","x":203.9806,"y":0.0947},{"s":"c","x":203.9826,"y":0.1357},{"s":"c","x":203.9845,"y":0.1613},{"s":"c","x":203.9864,"y":0.1382},{"s":"c","x":203.988,"y":0.1101},{"s":"c","x":203.9896,"y":0.1037},{"s":"c","x":203.992,"y":0.1421},{"s":"c","x":203.994,"y":0.1933},{"s":"c","x":203.9953,"y":0.2189},{"s":"c","x":203.9966,"y":0.1869},{"s":"c","x":203.998,"y":0.1254},{"s":"c","x":203.9993,"y":0.1101},{"s":"c","x":204.0009,"y":0.1293},{"s":"c","x":204.0024,"y":0.0973},{"s":"c","x":204.004,"y":0.0333},{"s":"c","x":204.0066,"y":0.0077},{"s":"c","x":204.0146,"y":0.0038},{"s":"c","x":204.0166,"y":0.0077},
{"s":"r","x":203.9753,"y":0},{"s":"r","x":203.9917,"y":0.001},{"s":"r","x":203.9929,"y":0.0149},{"s":"r","x":203.9941,"y":0.0668},{"s":"r","x":203.9953,"y":0.11},{"s":"r","x":203.9965,"y":0.0668},{"s":"r","x":203.9977,"y":0.0149},{"s":"r","x":203.9989,"y":0.001},{"s":"r","x":204.0002,"y":0},{"s":"r","x":204.0166,"y":0},
{"s":"t","x":204.0093,"y":0.2067,"t":"CH₃CHCN"},{"s":"t","x":204.01,"y":0.1867,"t":"ν₁₁=2"},{"s":"t","x":204.0106,"y":0.11,"t":"CH₃CH₂NC"},{"s":"a","x":204.0086,"y":0.0924,"y2":0.069}
]},
"encoding":{"x":{"field":"x","type":"quantitative","scale":{"domain":[203.9753,204.0166],"nice":false,"zero":false},"axis":{"values":[203.98,203.99,204,204.01],"title":null}},
"y":{"field":"y","type":"quantitative","scale":{"domain":[-0.014,0.232],"nice":false,"zero":false},"axis":{"values":[0,0.05,0.1,0.15,0.2],"title":null}}},
"resolve":{"axis":{"x":"independent","y":"independent"}},
"layer":[{"layer":[
{"transform":[{"filter":"datum.s=='o'"}],"mark":{"type":"line","interpolate":"step-after","clip":true,"color":"#3c3c3c","strokeWidth":0.9}},
{"transform":[{"filter":"datum.s=='c'"}],"mark":{"type":"line","interpolate":"monotone","clip":true,"color":"#66ffff","strokeWidth":0.9}},
{"transform":[{"filter":"datum.s=='r'"}],"mark":{"type":"line","interpolate":"monotone","clip":true,"color":"#ff6464","strokeWidth":0.9}},
{"transform":[{"filter":"datum.s=='t'"}],"mark":{"type":"text","fontSize":5.5,"font":"Liberation Serif","color":"#111"},"encoding":{"text":{"field":"t"}}},
{"transform":[{"filter":"datum.s=='a'"}],"mark":{"type":"rule","color":"#111","strokeWidth":0.6},"encoding":{"y2":{"field":"y2"}}},
{"transform":[{"filter":"datum.s=='a'"}],"mark":{"type":"point","shape":"triangle-down","filled":true,"size":5,"color":"#111","opacity":1},"encoding":{"y":{"field":"y2","type":"quantitative"}}}
]},
{"transform":[{"filter":"datum.s=='r'"}],"mark":{"type":"point","opacity":0},"encoding":{"x":{"field":"x","type":"quantitative","axis":{"orient":"top","labels":false,"values":[203.98,203.99,204,204.01],"title":null}},"y":{"field":"y","type":"quantitative","axis":{"orient":"right","labels":false,"values":[0,0.05,0.1,0.15,0.2],"title":null}}}}
]},
{"width":101,"height":64,
"data":{"values":[
{"s":"o","x":204.8646,"y":0.0883},{"s":"o","x":204.8656,"y":0.0082},{"s":"o","x":204.8674,"y":0.0031},{"s":"o","x":204.87,"y":0.001},{"s":"o","x":204.8738,"y":0.0021},{"s":"o","x":204.8776,"y":0.0031},{"s":"o","x":204.8794,"y":0.0781},{"s":"o","x":204.8804,"y":0.1756},{"s":"o","x":204.882,"y":0.1653},{"s":"o","x":204.883,"y":0.1417},{"s":"o","x":204.8843,"y":0.1499},{"s":"o","x":204.8855,"y":0.1756},{"s":"o","x":204.8868,"y":0.1602},{"s":"o","x":204.8878,"y":0.1191},{"s":"o","x":204.8894,"y":0.1273},{"s":"o","x":204.8904,"y":0.1345},{"s":"o","x":204.8919,"y":0.1191},{"s":"o","x":204.8935,"y":0.0883},{"s":"o","x":204.895,"y":0.0935},{"s":"o","x":204.8965,"y":0.0883},{"s":"o","x":204.8978,"y":0.037},{"s":"o","x":204.8991,"y":0},{"s":"o","x":204.9021,"y":0.0113},{"s":"o","x":204.9031,"y":0.0113},
{"s":"c","x":204.8646,"y":0.037},{"s":"c","x":204.8661,"y":0.0144},{"s":"c","x":204.8687,"y":0.0062},{"s":"c","x":204.8763,"y":0.0062},{"s":"c","x":204.8783,"y":0.0164},{"s":"c","x":204.8795,"y":0.0781},{"s":"c","x":204.8808,"y":0.1315},{"s":"c","x":204.8825,"y":0.1448},{"s":"c","x":204.8843,"y":0.1397},{"s":"c","x":204.8855,"y":0.0986},{"s":"c","x":204.8868,"y":0.0267},{"s":"c","x":204.8885,"y":0.0062},{"s":"c","x":204.8942,"y":0.0051},{"s":"c","x":204.8968,"y":0.0082},{"s":"c","x":204.9,"y":0.0062},{"s":"c","x":204.9031,"y":0.0092},
{"s":"r","x":204.8646,"y":0},{"s":"r","x":204.8799,"y":0.0013},{"s":"r","x":204.8811,"y":0.0161},{"s":"r","x":204.8822,"y":0.0722},{"s":"r","x":204.8834,"y":0.119},{"s":"r","x":204.8845,"y":0.0722},{"s":"r","x":204.8857,"y":0.0161},{"s":"r","x":204.8868,"y":0.0013},{"s":"r","x":204.888,"y":0},{"s":"r","x":204.9031,"y":0},
{"s":"t","x":204.8914,"y":0.155,"t":"U"},{"s":"t","x":204.8968,"y":0.1296,"t":"CH₃COOH"},{"s":"a","x":204.8965,"y":0.117,"y2":0.0926}
]},
"encoding":{"x":{"field":"x","type":"quantitative","scale":{"domain":[204.8646,204.9031],"nice":false,"zero":false},"axis":{"values":[204.87,204.88,204.89,204.9],"title":null}},
"y":{"field":"y","type":"quantitative","scale":{"domain":[-0.0144,0.183],"nice":false,"zero":false},"axis":{"values":[0,0.05,0.1,0.15],"title":null}}},
"resolve":{"axis":{"x":"independent","y":"independent"}},
"layer":[{"layer":[
{"transform":[{"filter":"datum.s=='o'"}],"mark":{"type":"line","interpolate":"step-after","clip":true,"color":"#3c3c3c","strokeWidth":0.9}},
{"transform":[{"filter":"datum.s=='c'"}],"mark":{"type":"line","interpolate":"monotone","clip":true,"color":"#66ffff","strokeWidth":0.9}},
{"transform":[{"filter":"datum.s=='r'"}],"mark":{"type":"line","interpolate":"monotone","clip":true,"color":"#ff6464","strokeWidth":0.9}},
{"transform":[{"filter":"datum.s=='t'"}],"mark":{"type":"text","fontSize":5.5,"font":"Liberation Serif","color":"#111"},"encoding":{"text":{"field":"t"}}},
{"transform":[{"filter":"datum.s=='a'"}],"mark":{"type":"rule","color":"#111","strokeWidth":0.6},"encoding":{"y2":{"field":"y2"}}},
{"transform":[{"filter":"datum.s=='a'"}],"mark":{"type":"point","shape":"triangle-down","filled":true,"size":5,"color":"#111","opacity":1},"encoding":{"y":{"field":"y2","type":"quantitative"}}}
]},
{"transform":[{"filter":"datum.s=='r'"}],"mark":{"type":"point","opacity":0},"encoding":{"x":{"field":"x","type":"quantitative","axis":{"orient":"top","labels":false,"values":[204.87,204.88,204.89,204.9],"title":null}},"y":{"field":"y","type":"quantitative","axis":{"orient":"right","labels":false,"values":[0,0.05,0.1,0.15],"title":null}}}}
]},
{"width":101,"height":64,
"data":{"values":[
{"s":"o","x":210.7104,"y":0.1448},{"s":"o","x":210.7115,"y":0.1294},{"s":"o","x":210.7125,"y":0.1448},{"s":"o","x":210.7139,"y":0.1243},{"s":"o","x":210.7152,"y":0.1397},{"s":"o","x":210.7165,"y":0.1089},{"s":"o","x":210.7179,"y":0.0524},{"s":"o","x":210.72,"y":0.2},{"s":"o","x":210.7224,"y":0.1705},{"s":"o","x":210.7235,"y":0.1191},{"s":"o","x":210.7248,"y":0.0883},{"s":"o","x":210.7259,"y":0.0472},{"s":"o","x":210.7272,"y":0.0729},{"s":"o","x":210.728,"y":0.1294},{"s":"o","x":210.7296,"y":0.1417},{"s":"o","x":210.7309,"y":0.1653},{"s":"o","x":210.7331,"y":0.1602},{"s":"o","x":210.7344,"y":0.1684},{"s":"o","x":210.7355,"y":0.2},{"s":"o","x":210.7464,"y":0.0113},{"s":"o","x":210.748,"y":0.0041},{"s":"o","x":210.7496,"y":0.0113},{"s":"o","x":210.7513,"y":0.0113},
{"s":"c","x":210.7104,"y":0.0113},{"s":"c","x":210.7147,"y":0.0082},{"s":"c","x":210.7213,"y":0.0082},{"s":"c","x":210.7253,"y":0.0164},{"s":"c","x":210.7273,"y":0.037},{"s":"c","x":210.7287,"y":0.076},{"s":"c","x":210.73,"y":0.0986},{"s":"c","x":210.7313,"y":0.0781},{"s":"c","x":210.7333,"y":0.0267},{"s":"c","x":210.736,"y":0.0082},{"s":"c","x":210.7413,"y":0.0062},{"s":"c","x":210.7513,"y":0.0062},
{"s":"r","x":210.7104,"y":0},{"s":"r","x":210.7268,"y":0.0006},{"s":"r","x":210.7279,"y":0.0068},{"s":"r","x":210.7289,"y":0.0303},{"s":"r","x":210.73,"y":0.05},{"s":"r","x":210.7311,"y":0.0303},{"s":"r","x":210.7321,"y":0.0068},{"s":"r","x":210.7332,"y":0.0006},{"s":"r","x":210.7343,"y":0},{"s":"r","x":210.7513,"y":0},
{"s":"t","x":210.7147,"y":0.109,"t":"U"},{"s":"t","x":210.7214,"y":0.145,"t":"U"},{"s":"t","x":210.738,"y":0.145,"t":"U"}
]},
"encoding":{"x":{"field":"x","type":"quantitative","scale":{"domain":[210.7104,210.7513],"nice":false,"zero":false},"axis":{"values":[210.72,210.73,210.74,210.75],"title":null}},
"y":{"field":"y","type":"quantitative","scale":{"domain":[-0.0144,0.183],"nice":false,"zero":false},"axis":{"values":[0,0.05,0.1,0.15],"title":null}}},
"resolve":{"axis":{"x":"independent","y":"independent"}},
"layer":[{"layer":[
{"transform":[{"filter":"datum.s=='o'"}],"mark":{"type":"line","interpolate":"step-after","clip":true,"color":"#3c3c3c","strokeWidth":0.9}},
{"transform":[{"filter":"datum.s=='c'"}],"mark":{"type":"line","interpolate":"monotone","clip":true,"color":"#66ffff","strokeWidth":0.9}},
{"transform":[{"filter":"datum.s=='r'"}],"mark":{"type":"line","interpolate":"monotone","clip":true,"color":"#ff6464","strokeWidth":0.9}},
{"transform":[{"filter":"datum.s=='t'"}],"mark":{"type":"text","fontSize":5.5,"font":"Liberation Serif","color":"#111"},"encoding":{"text":{"field":"t"}}}
]},
{"transform":[{"filter":"datum.s=='r'"}],"mark":{"type":"point","opacity":0},"encoding":{"x":{"field":"x","type":"quantitative","axis":{"orient":"top","labels":false,"values":[210.72,210.73,210.74,210.75],"title":null}},"y":{"field":"y","type":"quantitative","axis":{"orient":"right","labels":false,"values":[0,0.05,0.1,0.15],"title":null}}}}
]},
{"width":101,"height":64,
"data":{"values":[
{"s":"o","x":239.3968,"y":0.2124},{"s":"o","x":239.3985,"y":0.1028},{"s":"o","x":239.4008,"y":0.145},{"s":"o","x":239.4023,"y":0.1703},{"s":"o","x":239.4037,"y":0.145},{"s":"o","x":239.4057,"y":0.1534},{"s":"o","x":239.4072,"y":0.1787},{"s":"o","x":239.4086,"y":0.1871},{"s":"o","x":239.4101,"y":0.1619},{"s":"o","x":239.4112,"y":0.2124},{"s":"o","x":239.4127,"y":0.204},{"s":"o","x":239.4141,"y":0.2377},{"s":"o","x":239.4156,"y":0.1871},{"s":"o","x":239.417,"y":0.1534},{"s":"o","x":239.4184,"y":0.145},{"s":"o","x":239.4202,"y":0.1366},{"s":"o","x":239.4216,"y":0.145},{"s":"o","x":239.4231,"y":0.1113},{"s":"o","x":239.4245,"y":0},{"s":"o","x":239.4259,"y":0.0944},{"s":"o","x":239.4274,"y":0},{"s":"o","x":239.4283,"y":0.2664},{"s":"o","x":239.43,"y":0.263},{"s":"o","x":239.4317,"y":0.2546},{"s":"o","x":239.4335,"y":0.2462},{"s":"o","x":239.4352,"y":0.2377},{"s":"o","x":239.4366,"y":0.2293},{"s":"o","x":239.4381,"y":0.2091},{"s":"o","x":239.4395,"y":0.1956},{"s":"o","x":239.4412,"y":0.1956},
{"s":"c","x":239.3968,"y":0.1113},{"s":"c","x":239.3985,"y":0.0978},{"s":"c","x":239.4006,"y":0.0641},{"s":"c","x":239.4026,"y":0.0641},{"s":"c","x":239.4046,"y":0.0944},{"s":"c","x":239.4066,"y":0.1281},{"s":"c","x":239.4086,"y":0.1619},{"s":"c","x":239.4107,"y":0.1956},{"s":"c","x":239.4124,"y":0.2462},{"s":"c","x":239.4138,"y":0.2883},{"s":"c","x":239.415,"y":0.3102},{"s":"c","x":239.4161,"y":0.2799},{"s":"c","x":239.4176,"y":0.22},{"s":"c","x":239.419,"y":0.13},{"s":"c","x":239.4205,"y":0.06},{"s":"c","x":239.4222,"y":0.055},{"s":"c","x":239.4242,"y":0.1028},{"s":"c","x":239.4259,"y":0.1281},{"s":"c","x":239.4277,"y":0.1028},{"s":"c","x":239.4297,"y":0.1281},{"s":"c","x":239.4317,"y":0.145},{"s":"c","x":239.4335,"y":0.1281},{"s":"c","x":239.4349,"y":0.0776},{"s":"c","x":239.4363,"y":0.027},{"s":"c","x":239.4381,"y":0.0135},{"s":"c","x":239.4395,"y":0.0607},{"s":"c","x":239.4412,"y":0.1787},
{"s":"r","x":239.3968,"y":0.0438},{"s":"r","x":239.3985,"y":0.0236},{"s":"r","x":239.4004,"y":0.0101},{"s":"r","x":239.4023,"y":0.027},{"s":"r","x":239.404,"y":0.0691},{"s":"r","x":239.4057,"y":0.1079},{"s":"r","x":239.4076,"y":0.1197},{"s":"r","x":239.4095,"y":0.0944},{"s":"r","x":239.4112,"y":0.0607},{"s":"r","x":239.4127,"y":0.0472},{"s":"r","x":239.4144,"y":0.0776},{"s":"r","x":239.4161,"y":0.1248},{"s":"r","x":239.4179,"y":0.1484},{"s":"r","x":239.4196,"y":0.1281},{"s":"r","x":239.4213,"y":0.0691},{"s":"r","x":239.4231,"y":0.0236},{"s":"r","x":239.4249,"y":0.0051},{"s":"r","x":239.4268,"y":0},{"s":"r","x":239.4293,"y":0.0051},{"s":"r","x":239.4311,"y":0.0303},{"s":"r","x":239.4329,"y":0.0607},{"s":"r","x":239.4346,"y":0.0438},{"s":"r","x":239.4365,"y":0.0101},{"s":"r","x":239.4386,"y":0},{"s":"r","x":239.4412,"y":0},
{"s":"t","x":239.4126,"y":0.2545,"t":"CH₃CHCN"},{"s":"t","x":239.4126,"y":0.23,"t":"HC(O)CN"},{"s":"a","x":239.4155,"y":0.21,"y2":0.18},{"s":"t","x":239.423,"y":0.215,"t":"CH₃COOH"},{"s":"t","x":239.4232,"y":0.187,"t":"νₜ=1"},{"s":"a","x":239.4228,"y":0.167,"y2":0.1316},
{"s":"v","x":239.4138,"y":0.076,"t":"CH₃CHCN"},{"s":"v","x":239.4163,"y":0.076,"t":"ν₁₁=1"}
]},
"encoding":{"x":{"field":"x","type":"quantitative","scale":{"domain":[239.3968,239.4412],"nice":false,"zero":false},"axis":{"values":[239.4,239.41,239.42,239.43],"title":"ν (GHz)","titleX":-18,"titleY":9,"titleAlign":"left","titleBaseline":"middle","titleFont":"Liberation Serif","titleFontSize":7,"titleFontWeight":"normal"}},
"y":{"field":"y","type":"quantitative","scale":{"domain":[-0.0185,0.3],"nice":false,"zero":false},"axis":{"values":[0,0.1,0.2,0.3],"title":null}}},
"resolve":{"axis":{"x":"independent","y":"independent"}},
"layer":[{"layer":[
{"transform":[{"filter":"datum.s=='o'"}],"mark":{"type":"line","interpolate":"step-after","clip":true,"color":"#3c3c3c","strokeWidth":0.9}},
{"transform":[{"filter":"datum.s=='c'"}],"mark":{"type":"line","interpolate":"monotone","clip":true,"color":"#66ffff","strokeWidth":0.9}},
{"transform":[{"filter":"datum.s=='r'"}],"mark":{"type":"line","interpolate":"monotone","clip":true,"color":"#ff6464","strokeWidth":0.9}},
{"transform":[{"filter":"datum.s=='t'"}],"mark":{"type":"text","fontSize":5.5,"font":"Liberation Serif","color":"#111"},"encoding":{"text":{"field":"t"}}},
{"transform":[{"filter":"datum.s=='v'"}],"mark":{"type":"text","angle":270,"fontSize":5.5,"font":"Liberation Serif","color":"#111"},"encoding":{"text":{"field":"t"}}},
{"transform":[{"filter":"datum.s=='a'"}],"mark":{"type":"rule","color":"#111","strokeWidth":0.6},"encoding":{"y2":{"field":"y2"}}},
{"transform":[{"filter":"datum.s=='a'"}],"mark":{"type":"point","shape":"triangle-down","filled":true,"size":5,"color":"#111","opacity":1},"encoding":{"y":{"field":"y2","type":"quantitative"}}}
]},
{"transform":[{"filter":"datum.s=='r'"}],"mark":{"type":"point","opacity":0},"encoding":{"x":{"field":"x","type":"quantitative","axis":{"orient":"top","labels":false,"values":[239.4,239.41,239.42,239.43],"title":null}},"y":{"field":"y","type":"quantitative","axis":{"orient":"right","labels":false,"values":[0,0.1,0.2,0.3],"title":null}}}}
]},
{"width":101,"height":64,
"data":{"values":[
{"s":"o","x":249.2165,"y":0.4193},{"s":"o","x":249.2186,"y":0.429},{"s":"o","x":249.2214,"y":0.4049},{"s":"o","x":249.2231,"y":0.2193},{"s":"o","x":249.2247,"y":0.2314},{"s":"o","x":249.2264,"y":0.2193},{"s":"o","x":249.2281,"y":0.2675},{"s":"o","x":249.2298,"y":0.2796},{"s":"o","x":249.2311,"y":0.2193},{"s":"o","x":249.2345,"y":0.2555},{"s":"o","x":249.2359,"y":0.3157},{"s":"o","x":249.2373,"y":0.3398},{"s":"o","x":249.2387,"y":0.2796},{"s":"o","x":249.2401,"y":0.188},{"s":"o","x":249.2415,"y":0.1591},{"s":"o","x":249.2429,"y":0.5},{"s":"o","x":249.2493,"y":0.2555},{"s":"o","x":249.251,"y":0.2073},{"s":"o","x":249.2526,"y":0.1832},{"s":"o","x":249.2543,"y":0.147},{"s":"o","x":249.256,"y":0.0988},{"s":"o","x":249.2577,"y":0.0747},{"s":"o","x":249.2597,"y":0.0747},
{"s":"c","x":249.2165,"y":0.4242},{"s":"c","x":249.2183,"y":0.4434},{"s":"c","x":249.2203,"y":0.4121},{"s":"c","x":249.2225,"y":0.3278},{"s":"c","x":249.2245,"y":0.2193},{"s":"c","x":249.2264,"y":0.1229},{"s":"c","x":249.2286,"y":0.0627},{"s":"c","x":249.2306,"y":0.0916},{"s":"c","x":249.2325,"y":0.1542},{"s":"c","x":249.2342,"y":0.1301},{"s":"c","x":249.236,"y":0.2434},{"s":"c","x":249.2374,"y":0.3278},{"s":"c","x":249.2384,"y":0.3639},{"s":"c","x":249.2395,"y":0.3278},{"s":"c","x":249.2409,"y":0.1711},{"s":"c","x":249.2426,"y":0.1229},{"s":"c","x":249.244,"y":0.1398},{"s":"c","x":249.2465,"y":0.1109},{"s":"c","x":249.25,"y":0.0868},{"s":"c","x":249.2549,"y":0.0627},{"s":"c","x":249.2597,"y":0.0434},
{"s":"r","x":249.2165,"y":0.003},{"s":"r","x":249.2189,"y":0.02},{"s":"r","x":249.2208,"y":0.089},{"s":"r","x":249.2228,"y":0.147},{"s":"r","x":249.2247,"y":0.089},{"s":"r","x":249.2267,"y":0.02},{"s":"r","x":249.2286,"y":0.002},{"s":"r","x":249.2309,"y":0},{"s":"r","x":249.233,"y":0.0018},{"s":"r","x":249.2349,"y":0.018},{"s":"r","x":249.2369,"y":0.082},{"s":"r","x":249.2388,"y":0.135},{"s":"r","x":249.2408,"y":0.082},{"s":"r","x":249.2427,"y":0.018},{"s":"r","x":249.2447,"y":0.0018},{"s":"r","x":249.2466,"y":0},{"s":"r","x":249.2597,"y":0},
{"s":"t","x":249.2277,"y":0.28,"t":"U"},{"s":"t","x":249.2374,"y":0.4,"t":"CH₃COOH"},{"s":"a","x":249.2381,"y":0.38,"y2":0.355}
]},
"encoding":{"x":{"field":"x","type":"quantitative","scale":{"domain":[249.2165,249.2597],"nice":false,"zero":false},"axis":{"values":[249.22,249.23,249.24,249.25],"title":null}},
"y":{"field":"y","type":"quantitative","scale":{"domain":[-0.0265,0.429],"nice":false,"zero":false},"axis":{"values":[0,0.1,0.2,0.3,0.4],"title":null}}},
"resolve":{"axis":{"x":"independent","y":"independent"}},
"layer":[{"layer":[
{"transform":[{"filter":"datum.s=='o'"}],"mark":{"type":"line","interpolate":"step-after","clip":true,"color":"#3c3c3c","strokeWidth":0.9}},
{"transform":[{"filter":"datum.s=='c'"}],"mark":{"type":"line","interpolate":"monotone","clip":true,"color":"#66ffff","strokeWidth":0.9}},
{"transform":[{"filter":"datum.s=='r'"}],"mark":{"type":"line","interpolate":"monotone","clip":true,"color":"#ff6464","strokeWidth":0.9}},
{"transform":[{"filter":"datum.s=='t'"}],"mark":{"type":"text","fontSize":5.5,"font":"Liberation Serif","color":"#111"},"encoding":{"text":{"field":"t"}}},
{"transform":[{"filter":"datum.s=='a'"}],"mark":{"type":"rule","color":"#111","strokeWidth":0.6},"encoding":{"y2":{"field":"y2"}}},
{"transform":[{"filter":"datum.s=='a'"}],"mark":{"type":"point","shape":"triangle-down","filled":true,"size":5,"color":"#111","opacity":1},"encoding":{"y":{"field":"y2","type":"quantitative"}}}
]},
{"transform":[{"filter":"datum.s=='r'"}],"mark":{"type":"point","opacity":0},"encoding":{"x":{"field":"x","type":"quantitative","axis":{"orient":"top","labels":false,"values":[249.22,249.23,249.24,249.25],"title":null}},"y":{"field":"y","type":"quantitative","axis":{"orient":"right","labels":false,"values":[0,0.1,0.2,0.3,0.4],"title":null}}}}
]}
]
}
